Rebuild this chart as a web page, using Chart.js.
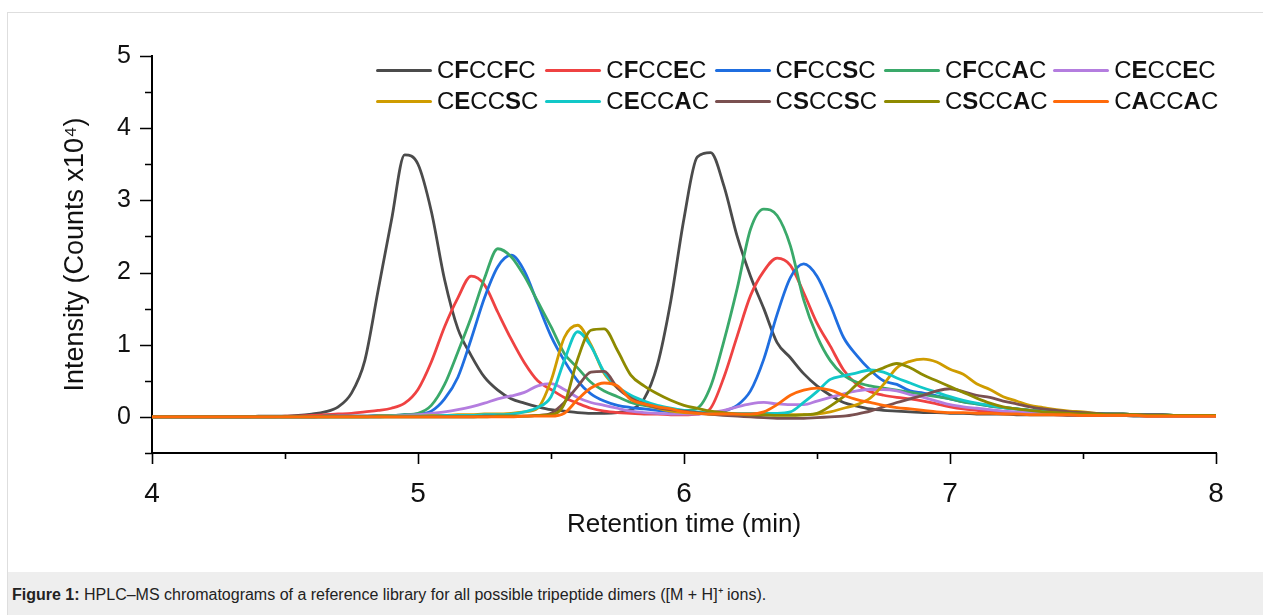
<!DOCTYPE html>
<html>
<head>
<meta charset="utf-8">
<script src="https://cdn.jsdelivr.net/npm/chart.js@4"></script>
<style>
  body { margin: 0; background: #fff; font-family: 'Liberation Sans', Arial, Helvetica, sans-serif; }
  #frame { position: absolute; left: 7px; top: 12px; width: 1270px; height: 620px; border: 1px solid #dedede; box-sizing: border-box; }
  #caption { position: absolute; left: 8px; top: 572px; width: 1270px; height: 50px; background: #eeeeee;
             font-size: 16px; color: #222; padding: 11px 0 0 4px; box-sizing: border-box; }
  #chart { position: absolute; left: 0; top: 0; }
  .item { position: absolute; height: 26px; font-size: 24px; color: #111; white-space: nowrap; }
  .item span.ln { position: absolute; left: 0; top: 12px; width: 56px; height: 3px; border-radius: 2px; }
  .item span.tx { position: absolute; left: 61px; top: 0; line-height: 26px; }
</style>
</head>
<body>
<div id="frame"></div>
<div id="caption"><b>Figure 1:</b> HPLC–MS chromatograms of a reference library for all possible tripeptide dimers ([M + H]⁺ ions).</div>
<canvas id="chart" width="1263" height="572"></canvas>
<div id="legend"></div>
<script>
// retention time (min)
const times = [
  4.00, 4.05, 4.10, 4.15, 4.20, 4.25, 4.30, 4.35, 4.40, 4.45,
  4.50, 4.55, 4.60, 4.65, 4.70, 4.75, 4.80, 4.85, 4.90, 4.95,
  5.00, 5.05, 5.10, 5.15, 5.20, 5.25, 5.30, 5.35, 5.40, 5.45,
  5.50, 5.55, 5.60, 5.65, 5.70, 5.75, 5.80, 5.85, 5.90, 5.95,
  6.00, 6.05, 6.10, 6.15, 6.20, 6.25, 6.30, 6.35, 6.40, 6.45,
  6.50, 6.55, 6.60, 6.65, 6.70, 6.75, 6.80, 6.85, 6.90, 6.95,
  7.00, 7.05, 7.10, 7.15, 7.20, 7.25, 7.30, 7.35, 7.40, 7.45,
  7.50, 7.55, 7.60, 7.65, 7.70, 7.75, 7.80, 7.85, 7.90, 7.95,
  8.00
];

// intensity (counts x10^4), one list per dimer
const cfccfc = [
  0, 0, 0, 0, 0, 0, 0, 0, 0.01, 0.01,
  0.01, 0.02, 0.04, 0.07, 0.14, 0.33, 0.78, 1.75, 2.72, 3.63,
  3.5, 2.85, 1.9, 1.22, 0.85, 0.55, 0.37, 0.25, 0.19, 0.14,
  0.1, 0.08, 0.06, 0.05, 0.05, 0.06, 0.1, 0.25, 0.72, 1.6,
  2.75, 3.6, 3.66, 3.2, 2.5, 1.95, 1.5, 1.03, 0.82, 0.6,
  0.43, 0.3, 0.2, 0.15, 0.11, 0.09, 0.08, 0.07, 0.06, 0.06,
  0.05, 0.05, 0.04, 0.04, 0.04, 0.03, 0.03, 0.03, 0.03, 0.02,
  0.02, 0.02, 0.02, 0.02, 0.01, 0.01, 0.01, 0.01, 0.01, 0.01,
  0.01
];
const cfccec = [
  0, 0, 0, 0, 0, 0, 0, 0, 0, 0,
  0.01, 0.01, 0.02, 0.03, 0.04, 0.05, 0.07, 0.09, 0.12, 0.19,
  0.38, 0.76, 1.25, 1.65, 1.95, 1.83, 1.45, 1.08, 0.75, 0.5,
  0.38, 0.27, 0.19, 0.12, 0.08, 0.06, 0.05, 0.04, 0.04, 0.03,
  0.03, 0.04, 0.12, 0.55, 1.12, 1.68, 2.02, 2.2, 2.1, 1.72,
  1.3, 0.98, 0.65, 0.45, 0.35, 0.3, 0.27, 0.25, 0.22, 0.18,
  0.14, 0.11, 0.09, 0.07, 0.06, 0.05, 0.04, 0.04, 0.03, 0.03,
  0.02, 0.02, 0.02, 0.02, 0.02, 0.01, 0.01, 0.01, 0.01, 0.01,
  0.01
];
const cfccsc = [
  0, 0, 0, 0, 0, 0, 0, 0, 0, 0,
  0, 0, 0, 0.01, 0.01, 0.01, 0.01, 0.02, 0.02, 0.03,
  0.04, 0.08, 0.25, 0.55, 1.08, 1.65, 2.08, 2.24, 2.02, 1.57,
  1.12, 0.78, 0.5, 0.32, 0.22, 0.16, 0.13, 0.11, 0.09, 0.07,
  0.06, 0.05, 0.04, 0.08, 0.16, 0.36, 0.8, 1.42, 1.93, 2.12,
  1.95, 1.55, 1.1, 0.85, 0.65, 0.5, 0.45, 0.36, 0.33, 0.29,
  0.25, 0.21, 0.18, 0.15, 0.13, 0.11, 0.09, 0.08, 0.07, 0.06,
  0.05, 0.04, 0.04, 0.03, 0.03, 0.03, 0.02, 0.02, 0.02, 0.02,
  0.02
];
const cfccac = [
  0, 0, 0, 0, 0, 0, 0, 0, 0, 0,
  0, 0, 0, 0.01, 0.01, 0.01, 0.01, 0.02, 0.02, 0.03,
  0.05, 0.16, 0.45, 0.9, 1.38, 1.92, 2.33, 2.22, 1.95, 1.6,
  1.25, 0.88, 0.68, 0.48, 0.36, 0.28, 0.2, 0.16, 0.13, 0.11,
  0.09, 0.12, 0.42, 1.05, 1.78, 2.6, 2.88, 2.79, 2.37, 1.62,
  1.12, 0.78, 0.58, 0.48, 0.43, 0.4, 0.37, 0.34, 0.31, 0.28,
  0.25, 0.21, 0.18, 0.15, 0.13, 0.11, 0.09, 0.08, 0.07, 0.06,
  0.05, 0.05, 0.04, 0.04, 0.03, 0.03, 0.03, 0.02, 0.02, 0.02,
  0.02
];
const ceccec = [
  0, 0, 0, 0, 0, 0, 0, 0, 0, 0,
  0, 0, 0, 0, 0.01, 0.01, 0.01, 0.01, 0.01, 0.02,
  0.03, 0.05, 0.07, 0.1, 0.14, 0.19, 0.25, 0.29, 0.34, 0.43,
  0.46, 0.38, 0.27, 0.2, 0.16, 0.12, 0.08, 0.06, 0.05, 0.04,
  0.04, 0.04, 0.06, 0.09, 0.14, 0.18, 0.2, 0.18, 0.17, 0.17,
  0.22, 0.27, 0.32, 0.36, 0.38, 0.38, 0.36, 0.31, 0.27, 0.22,
  0.17, 0.14, 0.12, 0.1, 0.08, 0.07, 0.06, 0.05, 0.05, 0.04,
  0.04, 0.04, 0.03, 0.03, 0.03, 0.03, 0.02, 0.02, 0.02, 0.02,
  0.02
];
const ceccsc = [
  0, 0, 0, 0, 0, 0, 0, 0, 0, 0,
  0, 0, 0, 0, 0, 0, 0, 0.01, 0.01, 0.01,
  0.01, 0.02, 0.02, 0.03, 0.03, 0.04, 0.04, 0.05, 0.07, 0.12,
  0.5, 1.1, 1.27, 1.0, 0.6, 0.4, 0.27, 0.18, 0.12, 0.08,
  0.06, 0.05, 0.04, 0.03, 0.03, 0.03, 0.03, 0.03, 0.03, 0.03,
  0.04, 0.07, 0.12, 0.17, 0.26, 0.45, 0.68, 0.77, 0.8, 0.76,
  0.66, 0.59, 0.46, 0.38, 0.28, 0.22, 0.16, 0.13, 0.1, 0.08,
  0.07, 0.05, 0.04, 0.04, 0.03, 0.03, 0.03, 0.02, 0.02, 0.02,
  0.02
];
const ceccac = [
  0, 0, 0, 0, 0, 0, 0, 0, 0, 0,
  0, 0, 0, 0, 0, 0, 0, 0, 0.01, 0.01,
  0.01, 0.01, 0.02, 0.02, 0.02, 0.03, 0.03, 0.04, 0.07, 0.13,
  0.28, 0.78, 1.18, 0.98, 0.62, 0.42, 0.3, 0.22, 0.16, 0.12,
  0.09, 0.07, 0.06, 0.05, 0.05, 0.05, 0.05, 0.05, 0.07, 0.2,
  0.35, 0.52, 0.57, 0.61, 0.65, 0.62, 0.54, 0.47, 0.4, 0.34,
  0.28, 0.23, 0.19, 0.16, 0.13, 0.11, 0.09, 0.08, 0.07, 0.06,
  0.05, 0.05, 0.04, 0.04, 0.03, 0.03, 0.03, 0.02, 0.02, 0.02,
  0.02
];
const csccsc = [
  0, 0, 0, 0, 0, 0, 0, 0, 0, 0,
  0, 0, 0, 0, 0, 0, 0, 0, 0, 0,
  0, 0, 0, 0, 0, 0.01, 0.01, 0.01, 0.01, 0.02,
  0.05, 0.2, 0.42, 0.62, 0.63, 0.4, 0.26, 0.18, 0.13, 0.1,
  0.08, 0.06, 0.04, 0.02, 0.01, 0, -0.01, -0.02, -0.02, -0.02,
  -0.01, 0, 0.01, 0.04, 0.08, 0.14, 0.2, 0.25, 0.3, 0.36,
  0.39, 0.35, 0.3, 0.27, 0.22, 0.18, 0.14, 0.11, 0.09, 0.07,
  0.06, 0.05, 0.04, 0.04, 0.03, 0.03, 0.03, 0.02, 0.02, 0.02,
  0.02
];
const csccac = [
  0, 0, 0, 0, 0, 0, 0, 0, 0, 0,
  0, 0, 0, 0, 0, 0, 0, 0, 0, 0,
  0, 0, 0, 0, 0, 0, 0.01, 0.01, 0.01, 0.02,
  0.03, 0.18, 0.8, 1.2, 1.22, 0.92, 0.58, 0.43, 0.32, 0.23,
  0.16, 0.12, 0.08, 0.06, 0.04, 0.03, 0.03, 0.02, 0.02, 0.03,
  0.05, 0.15, 0.28, 0.45, 0.6, 0.68, 0.74, 0.68, 0.58, 0.5,
  0.42, 0.34, 0.26, 0.19, 0.14, 0.11, 0.09, 0.07, 0.06, 0.05,
  0.04, 0.04, 0.03, 0.03, 0.03, 0.02, 0.02, 0.02, 0.02, 0.02,
  0.02
];
const caccac = [
  0, 0, 0, 0, 0, 0, 0, 0, 0, 0,
  0, 0, 0, 0, 0, 0, 0, 0, 0, 0,
  0, 0, 0, 0, 0, 0, 0, 0, 0.01, 0.01,
  0.01, 0.05, 0.24, 0.4, 0.47, 0.43, 0.24, 0.18, 0.14, 0.11,
  0.07, 0.05, 0.04, 0.04, 0.04, 0.04, 0.07, 0.17, 0.3, 0.37,
  0.4, 0.37, 0.3, 0.24, 0.2, 0.16, 0.13, 0.11, 0.09, 0.07,
  0.06, 0.06, 0.05, 0.05, 0.04, 0.04, 0.03, 0.03, 0.03, 0.03,
  0.02, 0.02, 0.02, 0.02, 0.02, 0.01, 0.01, 0.01, 0.01, 0.01,
  0.01
];

// legend labels: [plain, bold, plain, bold, plain]
const labels = [
  ['C', 'F', 'CC', 'F', 'C'], ['C', 'F', 'CC', 'E', 'C'], ['C', 'F', 'CC', 'S', 'C'],
  ['C', 'F', 'CC', 'A', 'C'], ['C', 'E', 'CC', 'E', 'C'], ['C', 'E', 'CC', 'S', 'C'],
  ['C', 'E', 'CC', 'A', 'C'], ['C', 'S', 'CC', 'S', 'C'], ['C', 'S', 'CC', 'A', 'C'],
  ['C', 'A', 'CC', 'A', 'C']
];
const series = [cfccfc, cfccec, cfccsc, cfccac, ceccec, ceccsc, ceccac, csccsc, csccac, caccac];
const colors = ['#4b4b4b', '#ef4242', '#1f6ee0', '#3aa96a', '#b47ddf',
                '#cf9c00', '#12c8c8', '#7a5050', '#8e8a00', '#ff6a0a'];

const FONT = "'Liberation Sans', Arial, Helvetica, sans-serif";

// custom legend (needs bold letters inside the names)
const legend = document.getElementById('legend');
labels.forEach((parts, i) => {
  const div = document.createElement('div');
  div.className = 'item';
  div.style.left = (376 + (i % 5) * 169.3) + 'px';
  div.style.top = (i < 5 ? 57 : 88) + 'px';
  const ln = document.createElement('span');
  ln.className = 'ln';
  ln.style.background = colors[i];
  const tx = document.createElement('span');
  tx.className = 'tx';
  tx.innerHTML = parts[0] + '<b>' + parts[1] + '</b>' + parts[2] + '<b>' + parts[3] + '</b>' + parts[4];
  div.appendChild(ln);
  div.appendChild(tx);
  legend.appendChild(div);
});

// major / minor tick marks drawn on the scales
const tickMarks = {
  id: 'tickMarks',
  afterDraw(chart) {
    const { ctx, scales: { x, y }, chartArea } = chart;
    ctx.save();
    ctx.strokeStyle = '#000';
    ctx.lineWidth = 1.6;
    ctx.beginPath();
    y.ticks.forEach(t => {
      const py = Math.round(y.getPixelForValue(t.value)) + 0.5;
      const len = Number.isInteger(t.value) ? 12 : 7;
      ctx.moveTo(chartArea.left - len, py);
      ctx.lineTo(chartArea.left, py);
    });
    x.ticks.forEach(t => {
      const px = Math.round(x.getPixelForValue(t.value)) + 0.5;
      const len = Number.isInteger(t.value) ? 11 : 6;
      ctx.moveTo(px, chartArea.bottom);
      ctx.lineTo(px, chartArea.bottom + len);
    });
    ctx.stroke();
    ctx.restore();
  }
};

new Chart(document.getElementById('chart'), {
  type: 'line',
  data: {
    datasets: series.map((vals, i) => ({
      label: labels[i].join(''),
      data: vals.map((v, k) => ({ x: times[k], y: v })),
      borderColor: colors[i],
      borderWidth: 2.8,
      pointRadius: 0,
      cubicInterpolationMode: 'monotone',
      fill: false,
      order: 10 - i
    }))
  },
  options: {
    responsive: false,
    animation: false,
    devicePixelRatio: 1,
    layout: { padding: { left: 0, right: 47, top: 56, bottom: 0 } },
    plugins: { legend: { display: false }, tooltip: { enabled: false } },
    scales: {
      x: {
        type: 'linear',
        min: 4, max: 8,
        grid: { display: false, drawTicks: false },
        border: { display: true, color: '#000', width: 2 },
        ticks: {
          stepSize: 0.5, autoSkip: false, maxRotation: 0, padding: 24,
          color: '#111', font: { family: FONT, size: 28 },
          callback: v => Number.isInteger(v) ? v : ''
        },
        title: {
          display: true, text: 'Retention time (min)', color: '#111',
          font: { family: FONT, size: 26, lineHeight: 1.2 }, padding: { top: 0, bottom: 32 }
        },
        afterFit: s => { s.height = 119; }
      },
      y: {
        min: -0.5, max: 5,
        grid: { display: false, drawTicks: false },
        border: { display: true, color: '#000', width: 2 },
        ticks: {
          stepSize: 0.5, autoSkip: false, padding: 21,
          color: '#111', font: { family: FONT, size: 25 },
          callback: v => Number.isInteger(v) ? v : ''
        },
        title: {
          display: true, text: 'Intensity (Counts x10⁴)', color: '#111',
          font: { family: FONT, size: 27, lineHeight: 1.2 }, padding: { top: 59, bottom: 0 }
        },
        afterFit: s => { s.width = 152; }
      }
    }
  },
  plugins: [tickMarks]
});
</script>
</body>
</html>
